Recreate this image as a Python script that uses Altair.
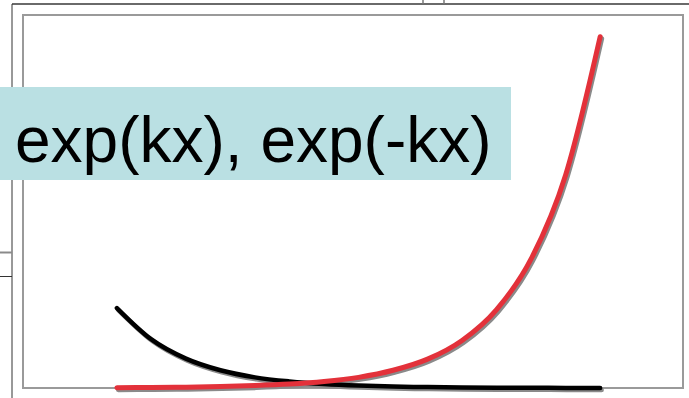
import altair as alt
import pandas as pd

# Sample positions along x and the two curve heights at those positions
x_vals = [0, 0.5, 1, 1.5, 2, 2.5, 3, 3.5, 4, 4.5, 5, 5.5, 6, 6.5, 7]
decay_vals = [15.8, 9.6, 5.8, 3.5, 2.1, 1.3, 0.79, 0.48, 0.29, 0.18, 0.11, 0.065, 0.04, 0.024, 0.014]
growth_vals = [0.063, 0.10, 0.17, 0.28, 0.47, 0.77, 1.27, 2.1, 3.5, 5.7, 9.4, 15.5, 25.5, 42.1, 69.4]

title_text = "exp(kx), exp(-kx)"

decay_df = pd.DataFrame({"x": x_vals, "y": decay_vals})
growth_df = pd.DataFrame({"x": x_vals, "y": growth_vals})

W, H = 660, 373
xs = alt.Scale(domain=[-1.36, 8.2], nice=False, zero=False)
ys = alt.Scale(domain=[0, 73.7], nice=False, zero=False)


def curve(df, color, width, shadow=False):
    kw = dict(strokeWidth=width, interpolate="monotone", clip=False, strokeCap="round")
    if shadow:
        kw.update(color="#8a8a8a", xOffset=1.5, yOffset=2)
    else:
        kw.update(color=color)
    return alt.Chart(df).mark_line(**kw).encode(
        x=alt.X("x:Q", scale=xs, axis=None),
        y=alt.Y("y:Q", scale=ys, axis=None),
    )


one = alt.Data(values=[{}])

# Surrounding page edges
def rule(x, x2, y, y2, color, w):
    return alt.Chart(one).mark_rule(color=color, strokeWidth=w, clip=False).encode(
        x=alt.value(x), x2=alt.value(x2), y=alt.value(y), y2=alt.value(y2)
    )

edges = [
    rule(-11, 666, -11, -11, "#6a6a6a", 2),
    rule(-11, -11, -11, 383, "#333333", 1),
    rule(400, 400, -15, -11, "#777777", 1.5),
    rule(421, 421, -15, -11, "#777777", 1.5),
    rule(-23, -11, 237.5, 237.5, "#8a8a8a", 2),
    rule(-23, -11, 261.5, 261.5, "#333333", 1),
]

box = alt.Chart(one).mark_rect(color="#bae0e3", clip=False).encode(
    x=alt.value(-23), x2=alt.value(488), y=alt.value(72), y2=alt.value(165)
)
label = alt.Chart(one).mark_text(
    align="left", baseline="alphabetic", fontSize=64, font="Liberation Sans",
    color="#000000", clip=False,
).encode(x=alt.value(-8), y=alt.value(147), text=alt.value(title_text))

chart = alt.layer(
    *edges,
    curve(decay_df, "#000000", 4.5, shadow=True),
    curve(growth_df, "#e3313a", 5, shadow=True),
    curve(decay_df, "#000000", 4.5),
    curve(growth_df, "#e3313a", 5),
    box,
    label,
).properties(
    width=W,
    height=H,
    autosize=alt.AutoSizeParams(type="none"),
    padding={"left": 23, "top": 15, "right": 6, "bottom": 10},
    background="#ffffff",
).configure_view(stroke="#9a9a9a", strokeWidth=2)

chart.save("out.html", embed_options={"renderer": "svg", "actions": False})
